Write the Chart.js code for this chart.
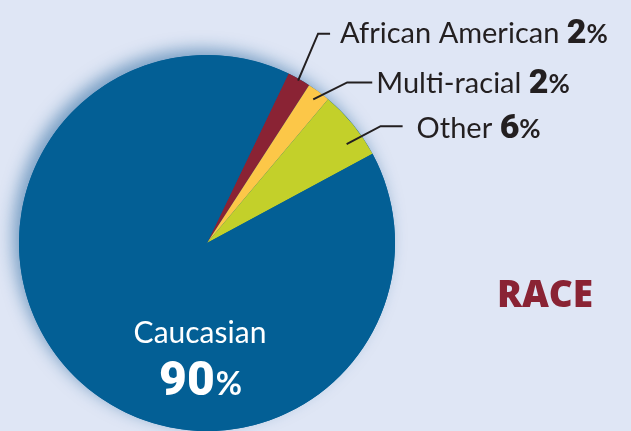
<!DOCTYPE html>
<html>
<head>
<meta charset="utf-8">
<script src="https://cdn.jsdelivr.net/npm/chart.js@4"></script>
<style>
  html, body { margin: 0; padding: 0; background: #dfe6f5; overflow: hidden; }
  #wrap { width: 631px; height: 431px; position: relative; }
</style>
</head>
<body>
<div id="wrap"><canvas id="raceChart"></canvas></div>
<script>
const categories = ['African American', 'Multi-racial', 'Other', 'Caucasian'];
const shares = [2, 2, 6, 90];
const sliceColors = ['#8a2334', '#fcc748', '#c3d02a', '#035f95'];
const chartTitle = 'RACE';

// callout geometry for the small slices: where the line leaves the slice,
// the elbow offset, horizontal run, and where the text sits after the run
const callouts = [
  { frac: 0.99, shift: 0, dx: 20, dy: -47, run: 12, tx: 10, ty: 9 },
  { frac: 0.95, shift: 0, dx: 34, dy: -17, run: 25, tx: 4, ty: 11 },
  { frac: 0.91, shift: 3.8, dx: 34, dy: -18, run: 22, tx: 14, ty: 12 }
];

const FONT = 'Lato, "Open Sans", sans-serif';
const NUMFONT = 'Roboto, Lato, sans-serif';

const pieShadow = {
  id: 'pieShadow',
  beforeDatasetsDraw(chart) {
    const arc = chart.getDatasetMeta(0).data[0];
    const ctx = chart.ctx;
    ctx.save();
    ctx.shadowColor = 'rgba(20, 90, 150, 0.5)';
    ctx.shadowBlur = 16;
    ctx.shadowOffsetX = -6;
    ctx.shadowOffsetY = -6;
    ctx.beginPath();
    ctx.arc(arc.x, arc.y, arc.outerRadius, 0, Math.PI * 2);
    ctx.fillStyle = sliceColors[3];
    ctx.fill();
    ctx.restore();
  }
};

function drawValue(ctx, x, y, txt, pct, nameFont, numFont, pctFont, color) {
  ctx.fillStyle = color;
  ctx.font = nameFont;
  ctx.fillText(txt, x, y);
  x += ctx.measureText(txt).width;
  ctx.font = numFont;
  ctx.fillText(String(pct), x, y);
  x += ctx.measureText(String(pct)).width;
  ctx.font = pctFont;
  ctx.fillText('%', x, y);
}

const pieLabels = {
  id: 'pieLabels',
  afterDatasetsDraw(chart) {
    const ctx = chart.ctx;
    const arcs = chart.getDatasetMeta(0).data;
    ctx.save();
    ctx.textBaseline = 'alphabetic';
    ctx.textAlign = 'left';
    callouts.forEach((c, i) => {
      const a = arcs[i];
      const mid = (a.startAngle + a.endAngle) / 2 + c.shift * Math.PI / 180;
      const r = a.outerRadius * c.frac;
      const sx = a.x + Math.cos(mid) * r;
      const sy = a.y + Math.sin(mid) * r;
      const ex = sx + c.dx, ey = sy + c.dy;
      ctx.strokeStyle = '#231f20';
      ctx.lineWidth = 2;
      ctx.beginPath();
      ctx.moveTo(sx, sy);
      ctx.lineTo(ex, ey);
      ctx.lineTo(ex + c.run, ey);
      ctx.stroke();
      drawValue(ctx, ex + c.run + c.tx, ey + c.ty, categories[i] + ' ', shares[i],
        '29px ' + FONT, '900 34px ' + NUMFONT, '700 26px ' + FONT, '#231f20');
    });
    // big slice label inside
    const big = arcs[3];
    const bx = big.x - 7, by = big.y;
    ctx.textAlign = 'center';
    ctx.fillStyle = '#ffffff';
    ctx.font = '30px ' + FONT;
    ctx.fillText(categories[3], bx, by + 100);
    ctx.font = '900 48px ' + NUMFONT;
    const numW = ctx.measureText(String(shares[3])).width;
    ctx.font = '700 32px ' + FONT;
    const pW = ctx.measureText('%').width;
    ctx.textAlign = 'left';
    const x0 = bx - (numW + pW) / 2;
    ctx.font = '900 48px ' + NUMFONT;
    ctx.fillText(String(shares[3]), x0, by + 152);
    ctx.font = '700 32px ' + FONT;
    ctx.fillText('%', x0 + numW + 1, by + 152);
    // title
    ctx.fillStyle = '#8a2334';
    ctx.font = '800 37px "Open Sans", sans-serif';
    ctx.textAlign = 'center';
    ctx.fillText(chartTitle, 545, 307);
    ctx.restore();
  }
};

new Chart(document.getElementById('raceChart'), {
  type: 'pie',
  data: {
    labels: categories,
    datasets: [{
      data: shares,
      backgroundColor: sliceColors,
      borderWidth: 0
    }]
  },
  options: {
    responsive: true,
    maintainAspectRatio: false,
    animation: false,
    rotation: 25.7,
    layout: { padding: { left: 19, right: 236, top: 55, bottom: 0 } },
    plugins: {
      legend: { display: false },
      tooltip: { enabled: false }
    }
  },
  plugins: [pieShadow, pieLabels]
});
</script>
</body>
</html>
